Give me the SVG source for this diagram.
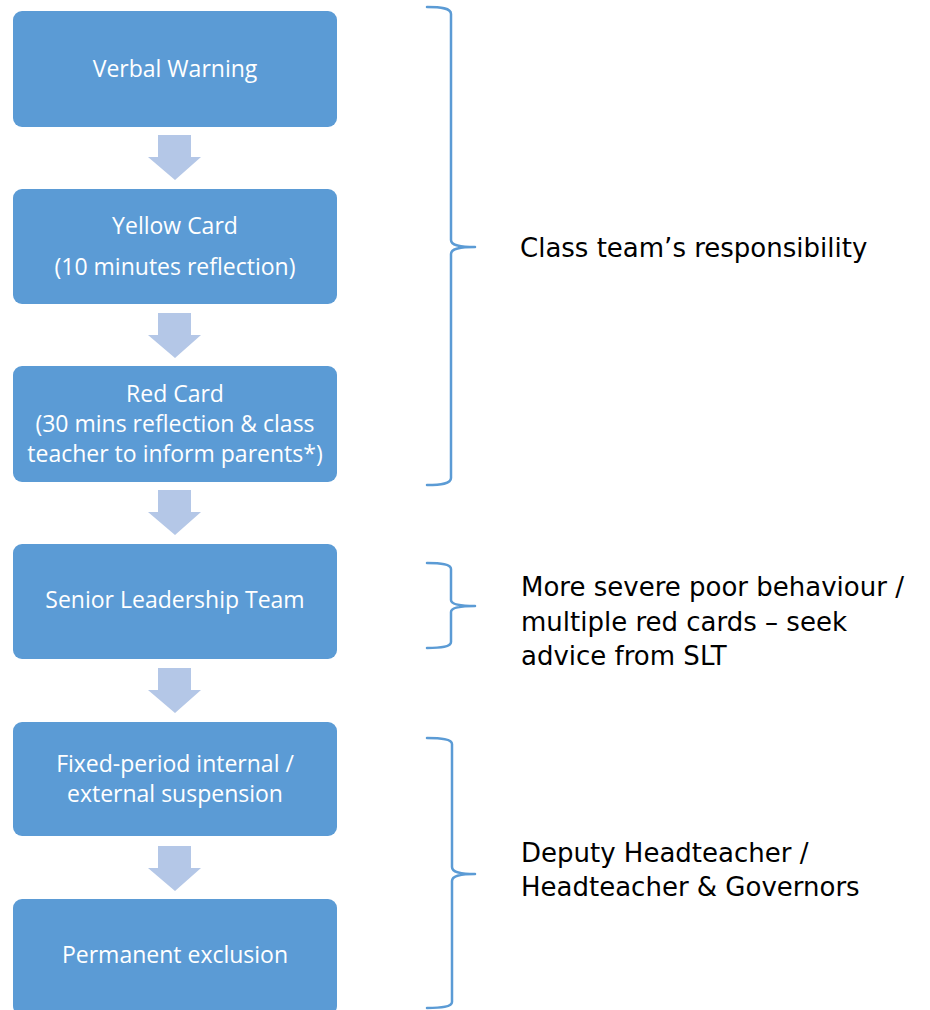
<svg xmlns="http://www.w3.org/2000/svg" width="930" height="1010" viewBox="0 0 930 1010">
  <style>
    .box { fill: #5B9BD5; }
    .box-label { font-family: "Open Sans", "Noto Sans", sans-serif; font-size: 23px; fill: #FFFFFF; text-anchor: middle; }
    .step { fill: #B4C7E7; }
    .brace { fill: none; stroke: #5B9BD5; stroke-width: 2.5; stroke-linecap: round; stroke-linejoin: round; }
    .note { font-family: "DejaVu Sans", Verdana, sans-serif; font-size: 26px; fill: #000000; }
  </style>
  <rect width="930" height="1010" fill="#FFFFFF"/>

  <!-- flow steps -->
  <g id="node-verbal-warning">
    <rect class="box" x="13" y="11" width="324" height="116" rx="9"/>
    <text class="box-label" x="175" y="77">Verbal Warning</text>
  </g>
  <g id="node-yellow-card">
    <rect class="box" x="13" y="189" width="324" height="115" rx="9"/>
    <text class="box-label" x="175" y="234">Yellow Card</text>
    <text class="box-label" x="175" y="275">(10 minutes reflection)</text>
  </g>
  <g id="node-red-card">
    <rect class="box" x="13" y="366" width="324" height="116" rx="9"/>
    <text class="box-label" x="175" y="402">Red Card</text>
    <text class="box-label" x="175" y="432">(30 mins reflection &amp; class</text>
    <text class="box-label" x="175" y="462">teacher to inform parents*)</text>
  </g>
  <g id="node-slt">
    <rect class="box" x="13" y="544" width="324" height="115" rx="9"/>
    <text class="box-label" x="175" y="608">Senior Leadership Team</text>
  </g>
  <g id="node-suspension">
    <rect class="box" x="13" y="722" width="324" height="114" rx="9"/>
    <text class="box-label" x="175" y="772">Fixed-period internal /</text>
    <text class="box-label" x="175" y="802">external suspension</text>
  </g>
  <g id="node-exclusion">
    <rect class="box" x="13" y="899" width="324" height="116" rx="9"/>
    <text class="box-label" x="175" y="963">Permanent exclusion</text>
  </g>

  <!-- block arrows between steps -->
  <g id="connectors">
    <polygon class="step" points="158,135 191,135 191,157 201,157 175,180 148,157 158,157"/>
    <polygon class="step" points="158,313 191,313 191,335 201,335 175,358 148,335 158,335"/>
    <polygon class="step" points="158,490 191,490 191,512 201,512 175,535 148,512 158,512"/>
    <polygon class="step" points="158,668 191,668 191,690 201,690 175,713 148,690 158,690"/>
    <polygon class="step" points="158,846 191,846 191,868 201,868 175,891 148,868 158,868"/>
  </g>

  <!-- responsibility brackets -->
  <g id="brace-class-team">
    <path class="brace" d="M427,7 C441,7 451,8 451,14 L451,240 C451,245 458,247 475,247 C458,247 451,249 451,254 L451,478 C451,484 441,485 427,485"/>
    <text class="note" x="520" y="257">Class team’s responsibility</text>
  </g>
  <g id="brace-slt">
    <path class="brace" d="M427,563 C441,563 451,564 451,569 L451,600 C451,604 458,606 475,606 C458,606 451,608 451,612 L451,642 C451,647 441,648 427,648"/>
    <text class="note" x="521" y="596">More severe poor behaviour /</text>
    <text class="note" x="521" y="631">multiple red cards – seek</text>
    <text class="note" x="521" y="665">advice from SLT</text>
  </g>
  <g id="brace-head">
    <path class="brace" d="M427,738 C441,738 452,739 452,744 L452,867 C452,872 459,874 475,874 C459,874 452,876 452,881 L452,1002 C452,1007 441,1008 427,1008"/>
    <text class="note" x="521" y="862">Deputy Headteacher /</text>
    <text class="note" x="521" y="896">Headteacher &amp; Governors</text>
  </g>
</svg>
